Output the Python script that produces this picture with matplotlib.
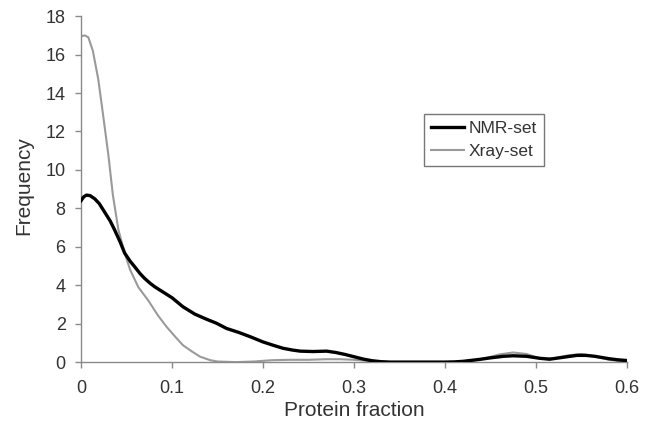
import matplotlib
matplotlib.use("Agg")
import matplotlib.pyplot as plt

plt.rcParams['font.family'] = ['Liberation Sans', 'DejaVu Sans']

nmr_x = [0.0, 0.003, 0.006, 0.01, 0.015, 0.02, 0.026, 0.032, 0.037, 0.043, 0.048,
         0.054, 0.059, 0.065, 0.07, 0.076, 0.081, 0.09, 0.10, 0.112, 0.125, 0.137,
         0.149, 0.16, 0.173, 0.186, 0.2, 0.211, 0.222, 0.232, 0.241, 0.255, 0.27,
         0.28, 0.29, 0.30, 0.31, 0.32, 0.33, 0.34, 0.36, 0.38, 0.40, 0.41, 0.42,
         0.438, 0.45, 0.464, 0.475, 0.49, 0.504, 0.515, 0.53, 0.545, 0.555, 0.565,
         0.58, 0.59, 0.60]
nmr_y = [8.4, 8.6, 8.69, 8.66, 8.5, 8.25, 7.8, 7.35, 6.87, 6.25, 5.67,
         5.25, 4.96, 4.6, 4.35, 4.1, 3.92, 3.65, 3.35, 2.88, 2.5, 2.25,
         2.02, 1.75, 1.55, 1.32, 1.05, 0.88, 0.72, 0.63, 0.57, 0.55, 0.57,
         0.5, 0.4, 0.28, 0.16, 0.07, 0.02, 0.0, 0.0, 0.0, 0.0, 0.01, 0.04,
         0.14, 0.22, 0.3, 0.33, 0.3, 0.2, 0.15, 0.25, 0.35, 0.35, 0.3,
         0.18, 0.12, 0.08]

xray_x = [0.0, 0.004, 0.008, 0.013, 0.019, 0.024, 0.03, 0.035, 0.041, 0.048, 0.054,
          0.063, 0.074, 0.085, 0.094, 0.103, 0.112, 0.122, 0.131, 0.142, 0.15, 0.17,
          0.19, 0.21, 0.23, 0.25, 0.27, 0.285, 0.30, 0.32, 0.34, 0.36, 0.38, 0.40,
          0.42, 0.44, 0.46, 0.475, 0.49, 0.504, 0.52, 0.535, 0.55, 0.565, 0.58,
          0.60]
xray_y = [16.95, 17.0, 16.9, 16.2, 14.7, 12.95, 10.8, 8.7, 6.9, 5.67, 4.8,
          3.9, 3.2, 2.4, 1.84, 1.35, 0.88, 0.55, 0.28, 0.1, 0.03, 0.0,
          0.03, 0.1, 0.12, 0.12, 0.15, 0.15, 0.12, 0.05, 0.0, 0.0, 0.0, 0.0,
          0.02, 0.15, 0.4, 0.5, 0.42, 0.2, 0.2, 0.35, 0.42, 0.3, 0.12,
          0.02]

x_ticks = [0, 0.1, 0.2, 0.3, 0.4, 0.5, 0.6]
x_tick_labels = ['0', '0.1', '0.2', '0.3', '0.4', '0.5', '0.6']
y_ticks = [0, 2, 4, 6, 8, 10, 12, 14, 16, 18]

fig = plt.figure(figsize=(6.55, 4.25), dpi=100)
ax = fig.add_axes([0.1237, 0.148, 0.8333, 0.814])

ax.plot(xray_x, xray_y, color='#9a9a9a', lw=1.5, label='Xray-set', zorder=2)
ax.plot(nmr_x, nmr_y, color='black', lw=2.4, label='NMR-set', zorder=3)

ax.set_xlim(0, 0.6)
ax.set_ylim(0, 18)
ax.set_xticks(x_ticks)
ax.set_xticklabels(x_tick_labels)
ax.set_yticks(y_ticks)

for s in ['top', 'right']:
    ax.spines[s].set_visible(False)
for s in ['left', 'bottom']:
    ax.spines[s].set_color('#8a8a8a')
    ax.spines[s].set_linewidth(1.0)

ax.tick_params(axis='both', colors='#8a8a8a', labelcolor='#333333', length=4,
               width=1.0, labelsize=13)
ax.tick_params(axis='y', pad=7)
ax.tick_params(axis='x', pad=9)

ax.set_xlabel('Protein fraction', fontsize=15, color='#333333')
ax.xaxis.set_label_coords(0.5, -0.112)
ax.set_ylabel('Frequency', fontsize=15, color='#333333')
ax.yaxis.set_label_coords(-0.088, 0.51)

handles, labels = ax.get_legend_handles_labels()
leg = ax.legend(handles[::-1], labels[::-1], loc='upper left',
                bbox_to_anchor=(0.628, 0.717), fontsize=12.5,
                frameon=True, fancybox=False, handlelength=1.9, handletextpad=0.3,
                borderpad=0.4, labelspacing=0.45, borderaxespad=0)
leg.get_frame().set_edgecolor('#555555')
leg.get_frame().set_linewidth(1.0)
for t in leg.get_texts():
    t.set_color('#333333')

fig.savefig('out.png', dpi=100)
